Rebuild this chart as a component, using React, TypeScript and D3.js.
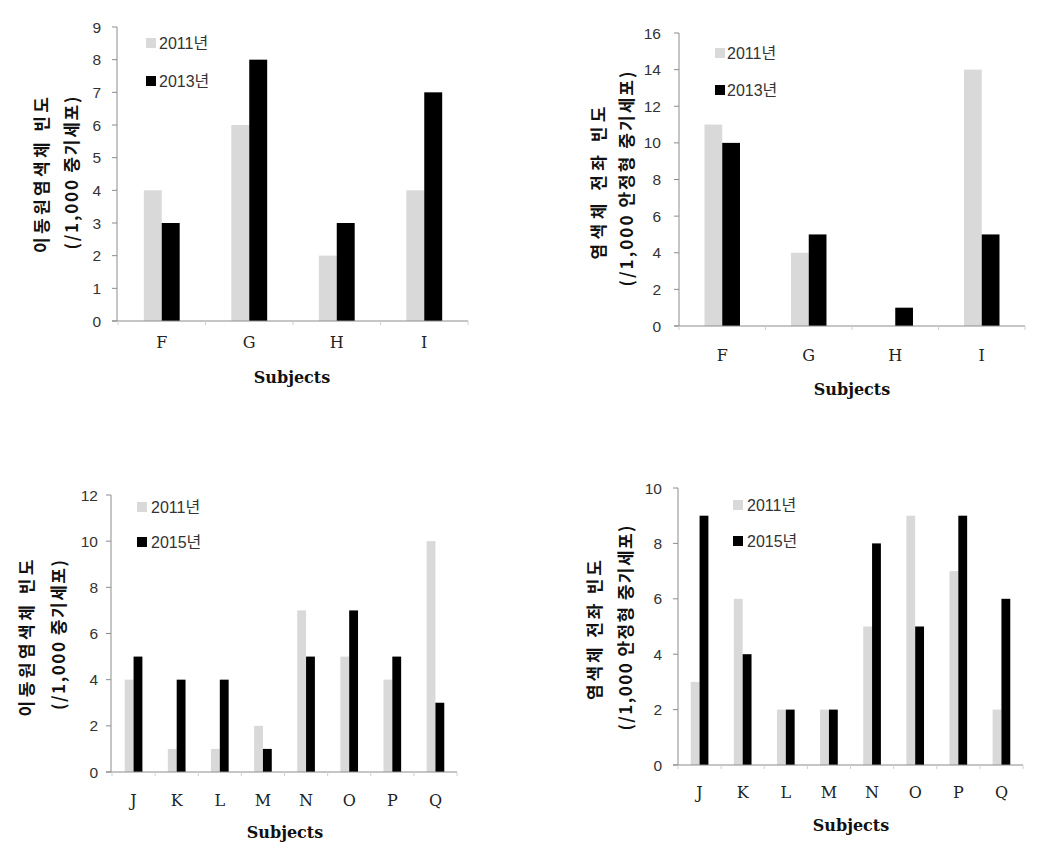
import React from "react";
import * as d3 from "d3";

const catsTop = ["F", "G", "H", "I"];
const catsBottom = ["J", "K", "L", "M", "N", "O", "P", "Q"];

const c1Series2011 = [4, 6, 2, 4];
const c1Series2013 = [3, 8, 3, 7];
const c2Series2011 = [11, 4, 0, 14];
const c2Series2013 = [10, 5, 1, 5];
const c3Series2011 = [4, 1, 1, 2, 7, 5, 4, 10];
const c3Series2015 = [5, 4, 4, 1, 5, 7, 5, 3];
const c4Series2011 = [3, 6, 2, 2, 5, 9, 7, 2];
const c4Series2015 = [9, 4, 2, 2, 8, 5, 9, 6];

const yTicks1 = [0, 1, 2, 3, 4, 5, 6, 7, 8, 9];
const yTicks2 = [0, 2, 4, 6, 8, 10, 12, 14, 16];
const yTicks3 = [0, 2, 4, 6, 8, 10, 12];
const yTicks4 = [0, 2, 4, 6, 8, 10];

const legendTop = ["2011년", "2013년"];
const legendBottom = ["2011년", "2015년"];
const xTitle = "Subjects";
const yTitleA = ["이동원염색체 빈도", "(/1,000 중기세포)"];
const yTitleB = ["염색체 전좌 빈도", "(/1,000 안정형 중기세포)"];

const GRAY = "#d9d9d9";
const BLACK = "#000000";
const AXIS = "#8c8c8c";
const SANS = "'Liberation Sans', Arial, 'Noto Sans CJK KR', sans-serif";
const SERIF = "'DejaVu Serif', 'Liberation Serif', serif";
const KR = "'Noto Sans CJK KR', sans-serif";

type Cfg = {
  cats: string[];
  a: number[];
  b: number[];
  ticks: number[];
  legend: string[];
  yTitle: string[];
  x0: number; x1: number; axisX: number;
  y0: number; yTop: number;
  tickGap: number; catDy: number;
  sub: [number, number];
  legSq: number; legTx: number; legY: [number, number];
  t1: [number, number, number]; t2: [number, number, number];
};

function Chart({ c }: { c: Cfg }) {
  const max = c.ticks[c.ticks.length - 1];
  const y = d3.scaleLinear().domain([0, max]).range([c.y0, c.yTop]);
  const x = d3.scaleBand<string>().domain(c.cats).range([c.x0, c.x1]).paddingInner(0.59).paddingOuter(0.295);
  const inner = d3.scaleBand<string>().domain(["a", "b"]).range([0, x.bandwidth()]).padding(0);
  const step = x.step();
  const boundaries = d3.range(c.cats.length + 1).map((i) => c.x0 + i * step);
  return (
    <g>
      {c.cats.map((cat, i) => (
        <g key={cat}>
          <rect x={(x(cat) as number) + (inner("a") as number)} y={y(c.a[i])} width={inner.bandwidth()} height={c.y0 - y(c.a[i])} fill={GRAY} />
          <rect x={(x(cat) as number) + (inner("b") as number)} y={y(c.b[i])} width={inner.bandwidth()} height={c.y0 - y(c.b[i])} fill={BLACK} />
        </g>
      ))}
      <line x1={c.axisX} x2={c.axisX} y1={y(max)} y2={c.y0} stroke={AXIS} strokeWidth={1} />
      {c.ticks.map((t) => (
        <g key={t}>
          <line x1={c.axisX - 5} x2={c.axisX} y1={y(t)} y2={y(t)} stroke={AXIS} strokeWidth={1} />
          <text x={c.axisX - c.tickGap} y={y(t)} textAnchor="end" dominantBaseline="central" fontFamily={SANS} fontSize={15.5} fill="#333">{t}</text>
        </g>
      ))}
      <line x1={c.axisX - 5} x2={c.x1} y1={c.y0} y2={c.y0} stroke={AXIS} strokeWidth={1} />
      {boundaries.map((bx, i) => (
        <line key={i} x1={bx} x2={bx} y1={c.y0} y2={c.y0 + 4} stroke="#d0d0d0" strokeWidth={1} />
      ))}
      {c.cats.map((cat) => (
        <text key={cat} x={(x(cat) as number) + x.bandwidth() / 2} y={c.y0 + c.catDy} textAnchor="middle" dominantBaseline="central" fontFamily={SERIF} fontSize={16} fill="#222">{cat}</text>
      ))}
      <text x={c.sub[0]} y={c.sub[1]} textAnchor="middle" fontFamily={SERIF} fontWeight="bold" fontSize={16} fill="#111">{xTitle}</text>
      {c.legend.map((l, i) => (
        <g key={l}>
          <rect x={c.legSq} y={c.legY[i] - 5} width={10} height={10} fill={i === 0 ? GRAY : BLACK} />
          <text x={c.legTx} y={c.legY[i]} dominantBaseline="central" fontFamily={SANS} fontSize={16} fill="#333">{l}</text>
        </g>
      ))}
      {[c.t1, c.t2].map((t, i) => (
        <text key={i} transform={`translate(${t[0]},${t[1]}) rotate(-90)`} textAnchor="middle" dominantBaseline="central" fontFamily={KR} fontWeight="bold" fontSize={17} fill="#111" textLength={t[2]} lengthAdjust="spacing">{c.yTitle[i]}</text>
      ))}
    </g>
  );
}

const charts: Cfg[] = [
  {
    cats: catsTop, a: c1Series2011, b: c1Series2013, ticks: yTicks1, legend: legendTop, yTitle: yTitleA,
    x0: 118, x1: 468, axisX: 117, y0: 321, yTop: 27, tickGap: 16, catDy: 21, sub: [292, 383],
    legSq: 146, legTx: 159, legY: [43, 81], t1: [40, 175, 156], t2: [70, 173, 153],
  },
  {
    cats: catsTop, a: c2Series2011, b: c2Series2013, ticks: yTicks2, legend: legendTop, yTitle: yTitleB,
    x0: 679, x1: 1025, axisX: 679, y0: 326, yTop: 33, tickGap: 18, catDy: 29, sub: [852, 395],
    legSq: 715, legTx: 727, legY: [53, 90], t1: [597, 183, 153], t2: [625, 179, 215],
  },
  {
    cats: catsBottom, a: c3Series2011, b: c3Series2015, ticks: yTicks3, legend: legendBottom, yTitle: yTitleA,
    x0: 112, x1: 457, axisX: 111, y0: 772, yTop: 495, tickGap: 13, catDy: 28, sub: [285, 838],
    legSq: 137, legTx: 151, legY: [507, 542], t1: [25, 638, 157], t2: [57, 635, 150],
  },
  {
    cats: catsBottom, a: c4Series2011, b: c4Series2015, ticks: yTicks4, legend: legendBottom, yTitle: yTitleB,
    x0: 678, x1: 1023, axisX: 678, y0: 765, yTop: 488, tickGap: 16, catDy: 27, sub: [851, 831],
    legSq: 733, legTx: 747, legY: [505, 541], t1: [593, 630, 140], t2: [624, 628, 205],
  },
];

export default function App() {
  return (
    <svg width={1046} height={863} style={{ position: "absolute", left: 0, top: 0, background: "#fff" }}>
      <rect width={1046} height={863} fill="#fff" />
      {charts.map((c, i) => (
        <Chart key={i} c={c} />
      ))}
    </svg>
  );
}
